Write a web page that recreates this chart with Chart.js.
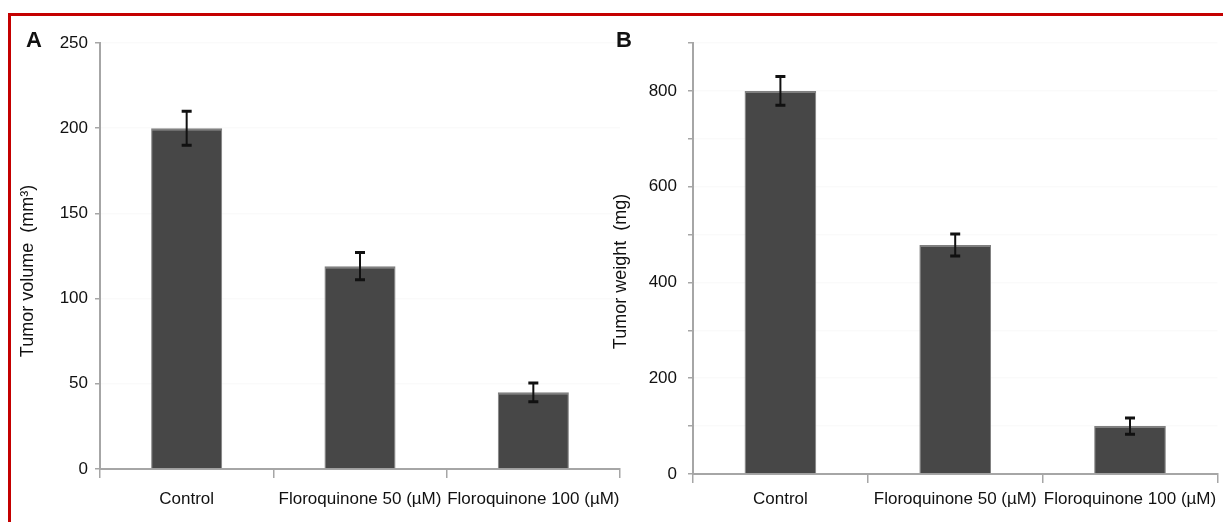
<!DOCTYPE html>
<html>
<head>
<meta charset="utf-8">
<script src="https://cdn.jsdelivr.net/npm/chart.js@4/dist/chart.umd.min.js"></script>
<style>
    html, body { margin: 0; padding: 0; background: #fff; }
    body { width: 1223px; height: 522px; position: relative; overflow: hidden; font-family: 'Liberation Sans', Arial, sans-serif; }
    .frame { position: absolute; left: 8px; top: 13px; width: 1240px; height: 540px; border-top: 3px solid #c40000; border-left: 3px solid #c40000; }
    .panel { position: absolute; font-weight: bold; font-size: 22px; color: #111; line-height: 1; }
    #wrapA { position: absolute; left: 0; top: 0; width: 645px; height: 522px; }
    #wrapB { position: absolute; left: 600px; top: 0; width: 623px; height: 522px; }
</style>
</head>
<body>
<div class="frame"></div>
<div id="wrapA"><canvas id="volumeChart"></canvas></div>
<div id="wrapB"><canvas id="weightChart"></canvas></div>
<div class="panel" style="left:26px; top:29px;">A</div>
<div class="panel" style="left:616px; top:29px;">B</div>
<script>
    // Datos
    const categories = ['Control', 'Floroquinone 50 (µM)', 'Floroquinone 100 (µM)'];
    const volumeValues = [200, 119, 45];
    const volumeErrors = [10, 8, 5.5];
    const weightValues = [800, 478, 100];
    const weightErrors = [30, 23, 17];

    Chart.defaults.font.family = "'Liberation Sans', Arial, sans-serif";
    Chart.defaults.color = '#111';

    // Barras de error
    const errorBars = {
        id: 'errorBars',
        afterDatasetsDraw(chart, args, opts) {
            const ctx = chart.ctx;
            const y = chart.scales.y;
            const meta = chart.getDatasetMeta(0);
            const values = chart.data.datasets[0].data;
            ctx.save();
            ctx.strokeStyle = '#111';
            meta.data.forEach(function(bar, i) {
                const top = y.getPixelForValue(values[i] + opts.errors[i]);
                const bottom = y.getPixelForValue(values[i] - opts.errors[i]);
                ctx.lineWidth = 2;
                ctx.beginPath();
                ctx.moveTo(bar.x, top);
                ctx.lineTo(bar.x, bottom);
                ctx.stroke();
                ctx.lineWidth = 3;
                ctx.beginPath();
                ctx.moveTo(bar.x - 5, top);
                ctx.lineTo(bar.x + 5, top);
                ctx.moveTo(bar.x - 5, bottom);
                ctx.lineTo(bar.x + 5, bottom);
                ctx.stroke();
            });
            ctx.restore();
        }
    };

    // Título vertical del eje Y
    const sideTitle = {
        id: 'sideTitle',
        afterDraw(chart, args, opts) {
            const ctx = chart.ctx;
            const area = chart.chartArea;
            ctx.save();
            ctx.translate(chart.scales.y.left + opts.x, (area.top + area.bottom) / 2 + opts.shift);
            ctx.rotate(-Math.PI / 2);
            ctx.font = "18px 'Liberation Sans', Arial, sans-serif";
            ctx.fillStyle = '#111';
            ctx.textAlign = 'center';
            ctx.textBaseline = 'middle';
            ctx.fillText(opts.text, 0, 0);
            ctx.restore();
        }
    };

    function createChart(id, values, errors, cfg) {
        const ctx = document.getElementById(id);
        return new Chart(ctx, {
            type: 'bar',
            data: {
                labels: categories,
                datasets: [{
                    data: values,
                    backgroundColor: '#474747',
                    borderColor: '#808080',
                    borderWidth: { top: 2, left: 1, right: 1, bottom: 0 },
                    borderSkipped: false,
                    categoryPercentage: 1,
                    barPercentage: 0.41
                }]
            },
            options: {
                responsive: true,
                maintainAspectRatio: false,
                animation: false,
                layout: { padding: cfg.padding },
                plugins: {
                    legend: { display: false },
                    tooltip: { enabled: false },
                    errorBars: { errors: errors },
                    sideTitle: { text: cfg.title, x: cfg.titleX, shift: cfg.titleShift }
                },
                scales: {
                    x: {
                        afterFit: function(scale) { scale.height = cfg.xHeight; },
                        border: { color: '#a6a6a6', width: 2 },
                        grid: { display: true, drawOnChartArea: false, tickLength: 9, color: '#a6a6a6', lineWidth: 1.5 },
                        ticks: { font: { size: 17 }, padding: cfg.xPad, maxRotation: 0, autoSkip: false }
                    },
                    y: {
                        min: 0,
                        max: cfg.max,
                        afterFit: function(scale) { scale.width = cfg.yWidth; },
                        border: { color: '#a6a6a6', width: 2 },
                        grid: { color: 'rgba(0,0,0,0.02)', tickColor: '#a6a6a6', tickLength: 5, lineWidth: 1.5 },
                        ticks: {
                            stepSize: cfg.step,
                            font: { size: 17 },
                            padding: cfg.yPad,
                            callback: cfg.tickLabel
                        }
                    }
                }
            },
            plugins: [errorBars, sideTitle]
        });
    }

    createChart('volumeChart', volumeValues, volumeErrors, {
        padding: { left: 0, top: 43, right: 25, bottom: 0 },
        max: 250, step: 50, yWidth: 100, xHeight: 53, xPad: 11, yPad: 7,
        title: 'Tumor volume  (mm³)', titleX: 28, titleShift: 15,
        tickLabel: function(v) { return v; }
    });

    createChart('weightChart', weightValues, weightErrors, {
        padding: { left: 0, top: 43, right: 5, bottom: 0 },
        max: 900, step: 100, yWidth: 93, xHeight: 48, xPad: 6, yPad: 11,
        title: 'Tumor weight  (mg)', titleX: 21, titleShift: 13,
        tickLabel: function(v) { return (v % 200 === 0 && v < 900) ? v : ''; }
    });
</script>
</body>
</html>
